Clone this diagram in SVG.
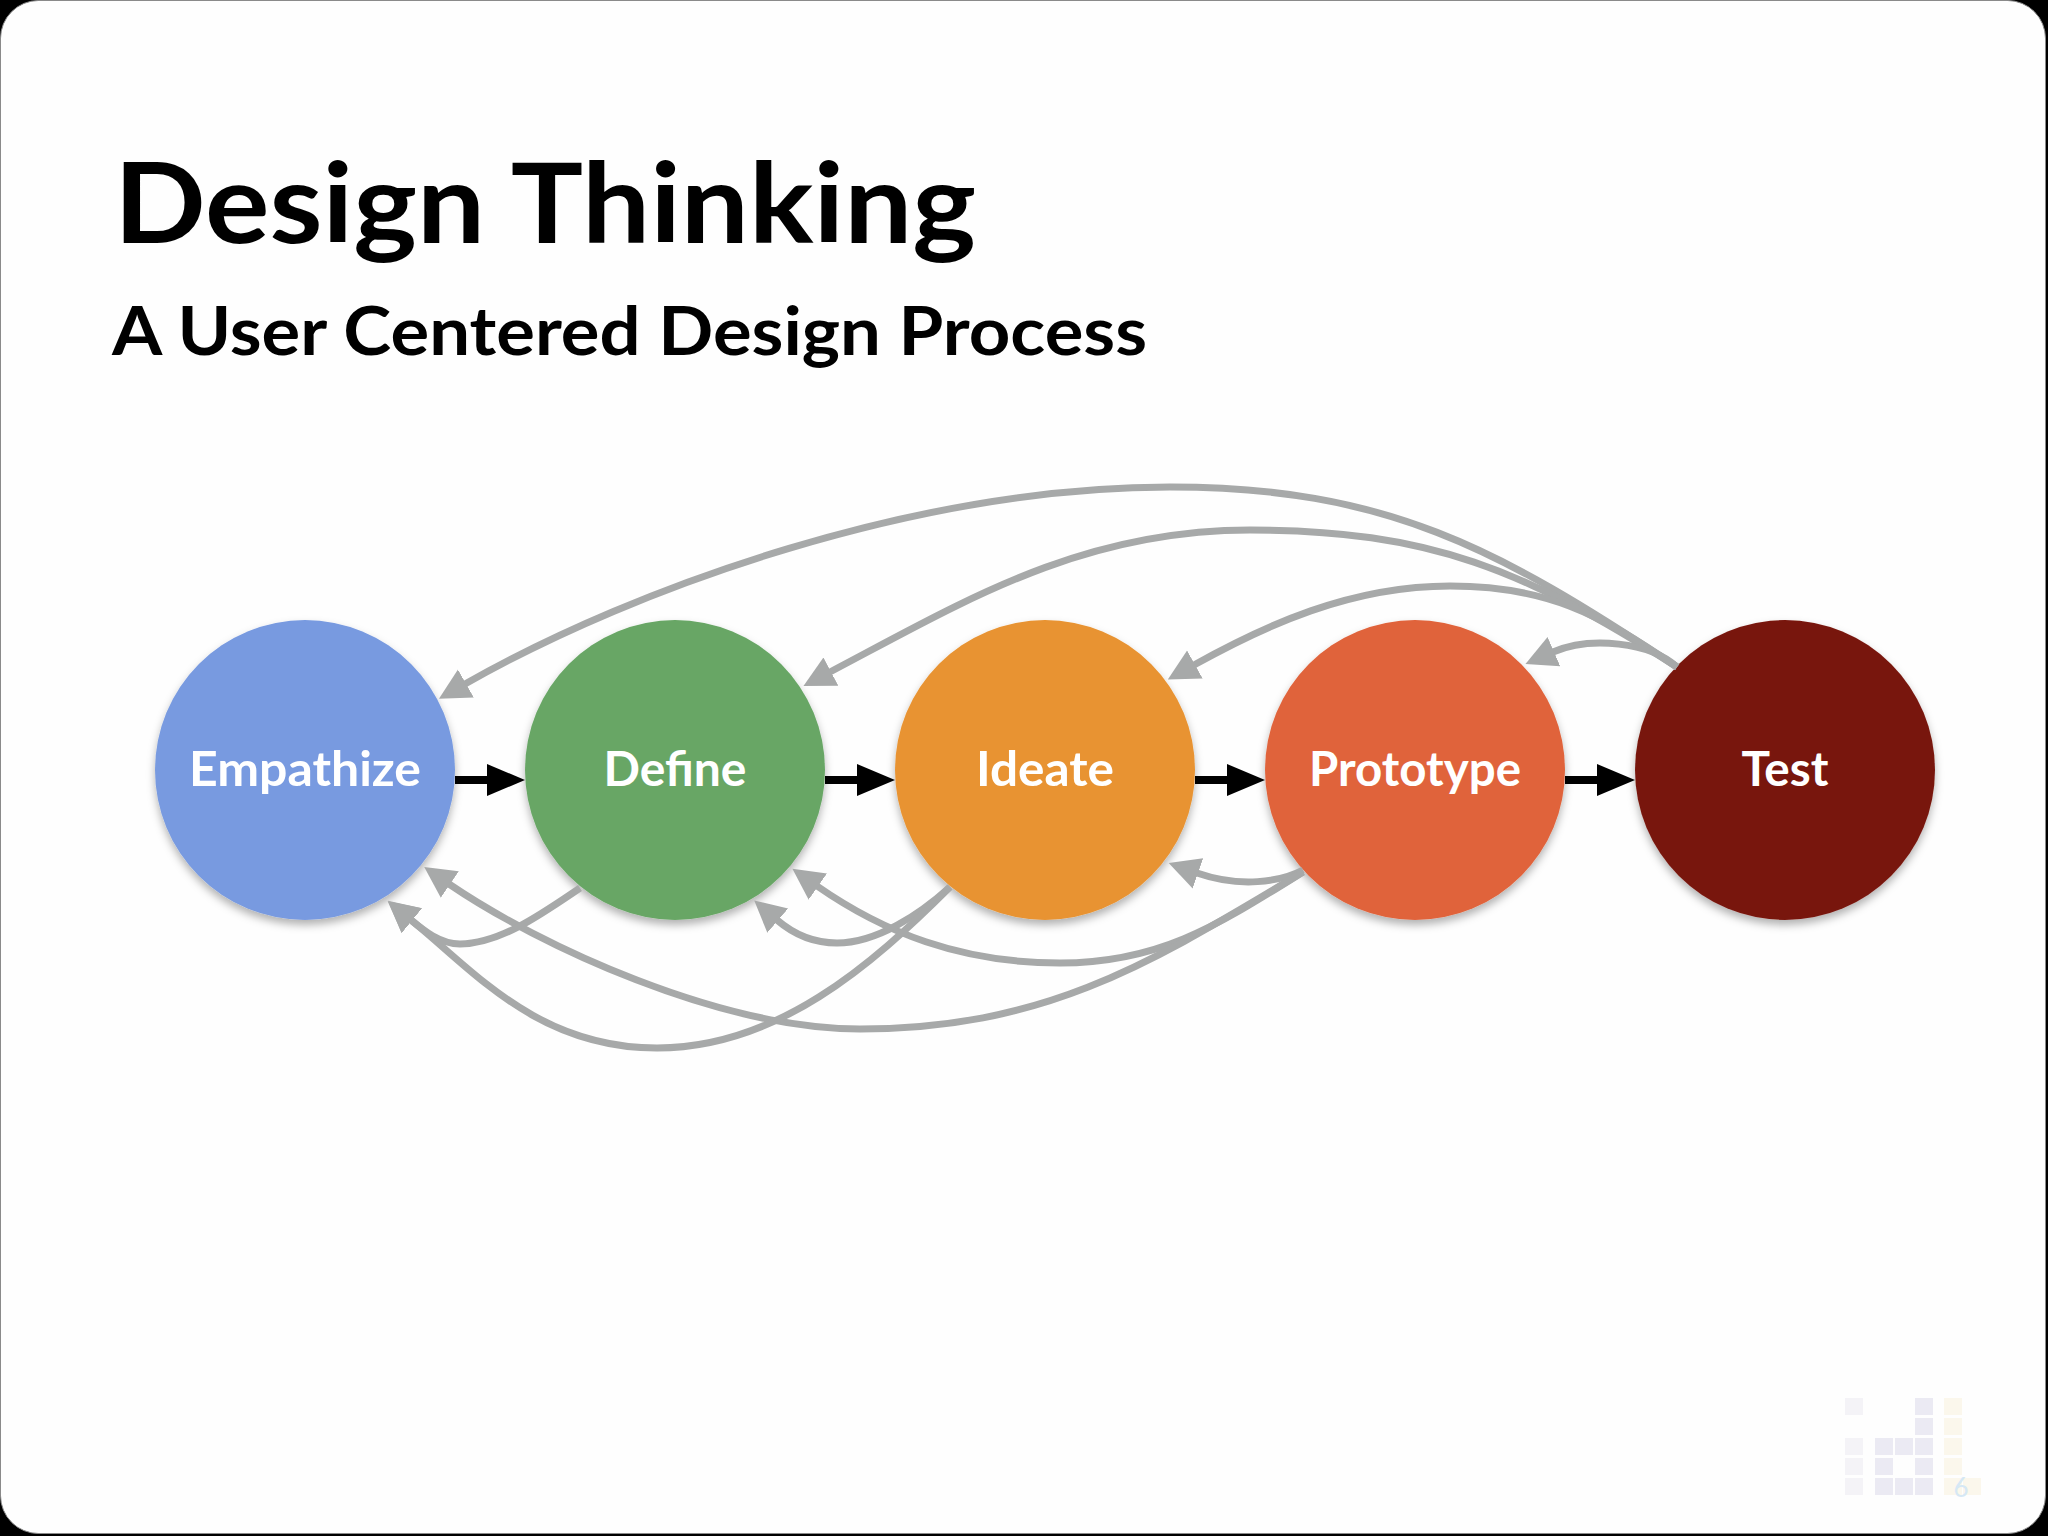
<svg xmlns="http://www.w3.org/2000/svg" width="2048" height="1536" viewBox="0 0 2048 1536">
<defs>
<style>
.title{font-family:Lato,"Liberation Sans",sans-serif;font-weight:700;fill:#000}
.lbl{font-family:Lato,"Liberation Sans",sans-serif;font-weight:700;font-size:48px;fill:#fff;text-anchor:middle}
.fb{fill:none;stroke:#A7A9A9;stroke-width:7;marker-end:url(#ga)}
.fw{stroke:#000;stroke-width:8}
.lg1{fill:#F4F3F7}
.lg2{fill:#EBEAF3}
.lg3{fill:#FBF7EC}
</style>
<filter id="sh" x="-20%" y="-20%" width="140%" height="150%">
<feDropShadow dx="0" dy="5" stdDeviation="4" flood-color="#000" flood-opacity="0.3"/>
</filter>
<marker id="ga" markerUnits="userSpaceOnUse" markerWidth="40" markerHeight="40" viewBox="0 -20 40 40" refX="1" refY="0" orient="auto">
<path d="M0,-16 L31,0 L0,16 z" fill="#A7A9A9"/>
</marker>
</defs>
<rect x="0" y="0" width="2048" height="1536" fill="#000"/>
<rect x="0.5" y="0.5" width="2045" height="1533" rx="38" ry="38" fill="#FEFEFE" stroke="#8A8A8A" stroke-width="1"/>

<g id="title">
<text class="title" x="114" y="243" font-size="111" textLength="862" lengthAdjust="spacingAndGlyphs">Design Thinking</text>
<text class="title" x="112" y="355" font-size="66" textLength="1035" lengthAdjust="spacingAndGlyphs">A User Centered Design Process</text>
</g>

<g id="node-empathize">
<circle cx="305" cy="770" r="150" fill="#789AE0" filter="url(#sh)"/>
<text class="lbl" x="305" y="786" textLength="232" lengthAdjust="spacingAndGlyphs">Empathize</text>
</g>
<g id="node-define">
<circle cx="675" cy="770" r="150" fill="#68A665" filter="url(#sh)"/>
<text class="lbl" x="675" y="786" textLength="143" lengthAdjust="spacingAndGlyphs">Define</text>
</g>
<g id="node-ideate">
<circle cx="1045" cy="770" r="150" fill="#E89332" filter="url(#sh)"/>
<text class="lbl" x="1045" y="786" textLength="138" lengthAdjust="spacingAndGlyphs">Ideate</text>
</g>
<g id="node-prototype">
<circle cx="1415" cy="770" r="150" fill="#E0633B" filter="url(#sh)"/>
<text class="lbl" x="1415" y="786" textLength="212" lengthAdjust="spacingAndGlyphs">Prototype</text>
</g>
<g id="node-test">
<circle cx="1785" cy="770" r="150" fill="#78160C" filter="url(#sh)"/>
<text class="lbl" x="1785" y="786" textLength="87" lengthAdjust="spacingAndGlyphs">Test</text>
</g>

<g id="connectors">
<line class="fw" x1="455" y1="780" x2="490" y2="780"/>
<polygon points="487,764 525,780 487,796" fill="#000"/>
<line class="fw" x1="825" y1="780" x2="860" y2="780"/>
<polygon points="857,764 895,780 857,796" fill="#000"/>
<line class="fw" x1="1195" y1="780" x2="1230" y2="780"/>
<polygon points="1227,764 1265,780 1227,796" fill="#000"/>
<line class="fw" x1="1565" y1="780" x2="1600" y2="780"/>
<polygon points="1597,764 1635,780 1597,796" fill="#000"/>

<path class="fb" d="M1677,667 C1498,548 1385,487 1170,487 C920,487 639,585 465,684"/>
<path class="fb" d="M1677,667 C1525,570 1430,530 1250,530 C1080,530 963,602 830,672"/>
<path class="fb" d="M1677,667 C1598,613 1546,586 1450,586 C1350,586 1264,626 1194,665"/>
<path class="fb" d="M1677,667 C1650,642 1590,636 1553,652"/>
<path class="fb" d="M1303,870 C1280,882 1240,888 1197,873"/>
<path class="fb" d="M1303,872 C1218,925 1160,963 1060,963 C960,963 883,932 817,886"/>
<path class="fb" d="M1303,872 C1157,959 1050,1029 860,1029 C720,1029 540,946 449,884"/>
<path class="fb" d="M950,887 C920,914 877,943 837,943 C812,943 791,932 777,920"/>
<path class="fb" d="M950,887 C872,965 777,1048 657,1048 C537,1048 473,970 411,920"/>
<path class="fb" d="M580,888 C543,913 500,944 460,944 C440,944 423,930 411,920"/>
</g>

<g id="logo">
<rect class="lg1" x="1845" y="1398" width="18" height="17"/>
<rect class="lg1" x="1845" y="1438" width="18" height="17"/>
<rect class="lg1" x="1845" y="1458" width="18" height="17"/>
<rect class="lg1" x="1845" y="1478" width="18" height="17"/>
<rect class="lg2" x="1875" y="1438" width="18" height="17"/>
<rect class="lg2" x="1875" y="1458" width="18" height="17"/>
<rect class="lg2" x="1875" y="1478" width="18" height="17"/>
<rect class="lg2" x="1895" y="1438" width="18" height="17"/>
<rect class="lg2" x="1895" y="1478" width="18" height="17"/>
<rect class="lg2" x="1915" y="1398" width="18" height="17"/>
<rect class="lg2" x="1915" y="1418" width="18" height="17"/>
<rect class="lg2" x="1915" y="1438" width="18" height="17"/>
<rect class="lg2" x="1915" y="1458" width="18" height="17"/>
<rect class="lg2" x="1915" y="1478" width="18" height="17"/>
<rect class="lg3" x="1944" y="1398" width="18" height="17"/>
<rect class="lg3" x="1944" y="1418" width="18" height="17"/>
<rect class="lg3" x="1944" y="1438" width="18" height="17"/>
<rect class="lg3" x="1944" y="1458" width="18" height="17"/>
<rect class="lg3" x="1944" y="1478" width="18" height="17"/>
<rect class="lg3" x="1963" y="1478" width="18" height="17"/>
<text x="1961" y="1497" font-family="Lato,'Liberation Sans',sans-serif" font-size="26" fill="#D6E8F5" text-anchor="middle">6</text>
</g>
</svg>
